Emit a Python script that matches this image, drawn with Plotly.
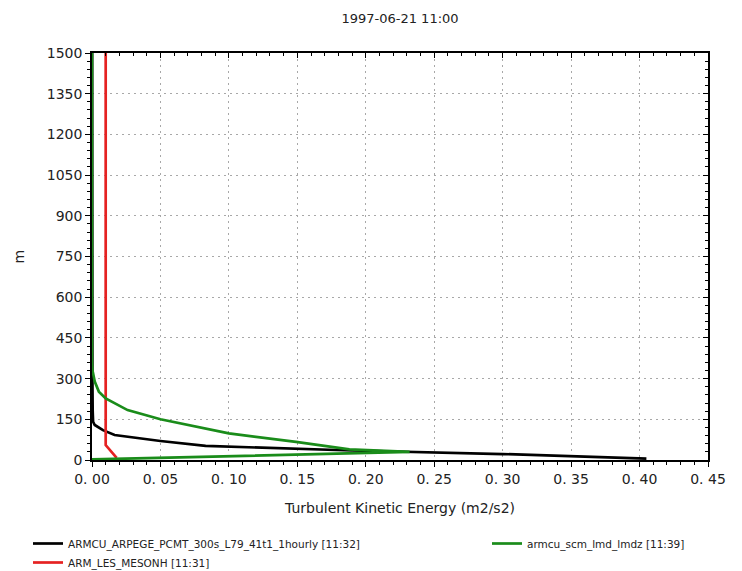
import plotly.graph_objects as go

# --- data ---
title_text = "1997-06-21 11:00"
x_label = "Turbulent Kinetic Energy (m2/s2)"
y_label = "m"

black_name = "ARMCU_ARPEGE_PCMT_300s_L79_41t1_1hourly [11:32]"
black_z = [5, 22, 35, 43, 52, 70, 92, 110, 129, 141, 180, 300, 600, 1000, 1500]
black_x = [0.405, 0.30, 0.19, 0.13, 0.083, 0.05, 0.0165, 0.008, 0.002, 0.0008, 0.0005, 0.0003, 0.0002, 0.0001, 0.0001]

green_name = "armcu_scm_lmd_lmdz [11:39]"
green_z = [2, 30, 39, 53, 67, 98, 120, 150, 184, 227, 252, 289, 332, 360, 600, 1000, 1500]
green_x = [0.0, 0.232, 0.188, 0.168, 0.149, 0.100, 0.078, 0.050, 0.026, 0.010, 0.005, 0.002, 0.0003, 0.0, 0.0, 0.0, 0.0]

red_name = "ARM_LES_MESONH [11:31]"
red_z = [8, 55, 300, 800, 1500]
red_x = [0.018, 0.010, 0.010, 0.010, 0.010]

x_ticks = [0.0, 0.05, 0.10, 0.15, 0.20, 0.25, 0.30, 0.35, 0.40, 0.45]
x_ticktext = ["0. 00", "0. 05", "0. 10", "0. 15", "0. 20", "0. 25", "0. 30", "0. 35", "0. 40", "0. 45"]
y_ticks = [0, 150, 300, 450, 600, 750, 900, 1050, 1200, 1350, 1500]

FONT = "DejaVu Sans"
TXT = "#222222"

fig = go.Figure()
fig.add_trace(go.Scatter(x=black_x, y=black_z, mode="lines", name=black_name,
                         line=dict(color="#000000", width=2.7), legend="legend"))
fig.add_trace(go.Scatter(x=red_x, y=red_z, mode="lines", name=red_name,
                         line=dict(color="#e52222", width=2.7), legend="legend"))
fig.add_trace(go.Scatter(x=green_x, y=green_z, mode="lines", name=green_name,
                         line=dict(color="#1a8c1a", width=2.7), legend="legend2"))

common_grid = dict(showgrid=True, gridcolor="#a8a8a8", griddash="2px,4px", gridwidth=1,
                   zeroline=False, showline=True, linecolor="black", linewidth=1.5,
                   ticks="outside", ticklen=5, tickwidth=1, tickcolor="black")

legend_common = dict(orientation="v", xanchor="left", yanchor="top",
                     xref="container", yref="container",
                     font=dict(size=10.5, family=FONT, color=TXT),
                     itemwidth=30, bgcolor="rgba(0,0,0,0)", traceorder="normal",
                     tracegroupgap=0)

fig.update_layout(
    width=742, height=571,
    margin=dict(l=92, r=34, t=53, b=111, autoexpand=False),
    paper_bgcolor="white", plot_bgcolor="white",
    font=dict(family=FONT, color=TXT),
    title=dict(text=title_text, x=400/742, xanchor="center", y=1 - 18/571, yanchor="middle",
               font=dict(size=13, family=FONT, color=TXT)),
    showlegend=True,
    legend=dict(x=28/742, y=1 - 529/571, **legend_common),
    legend2=dict(x=487/742, y=1 - 529/571, **legend_common),
    xaxis=dict(range=[0, 0.45], tickvals=x_ticks, ticktext=x_ticktext,
               tickfont=dict(size=14, family=FONT, color=TXT),
               title=dict(text=x_label, font=dict(size=14, family=FONT, color=TXT), standoff=18),
               minor=dict(dtick=0.01, ticks="outside", ticklen=3, tickcolor="black", showgrid=False),
               **common_grid),
    yaxis=dict(range=[0, 1500], tickvals=y_ticks,
               tickfont=dict(size=14, family=FONT, color=TXT),
               minor=dict(dtick=30, ticks="outside", ticklen=3, tickcolor="black", showgrid=False),
               **common_grid),
    xaxis2=dict(overlaying="x", side="top", range=[0, 0.45], tickvals=x_ticks, showticklabels=False,
                ticks="inside", ticklen=5, tickcolor="black", showgrid=False, zeroline=False,
                showline=True, linecolor="black", linewidth=1.5,
                minor=dict(dtick=0.01, ticks="inside", ticklen=3, tickcolor="black")),
    yaxis2=dict(overlaying="y", side="right", range=[0, 1500], tickvals=y_ticks, showticklabels=False,
                ticks="inside", ticklen=5, tickcolor="black", showgrid=False, zeroline=False,
                showline=True, linecolor="black", linewidth=1.5,
                minor=dict(dtick=30, ticks="inside", ticklen=3, tickcolor="black")),
    annotations=[dict(text=y_label, xref="paper", yref="paper", x=(18 - 92) / 616, y=0.5,
                      xanchor="center", yanchor="middle", textangle=-90, showarrow=False,
                      font=dict(size=14, family=FONT, color=TXT))],
)
# invisible trace to activate the mirrored axes
fig.add_trace(go.Scatter(x=[0], y=[0], xaxis="x2", yaxis="y2", mode="markers",
                         marker=dict(opacity=0), showlegend=False, hoverinfo="skip"))

fig.write_html("out.html")
